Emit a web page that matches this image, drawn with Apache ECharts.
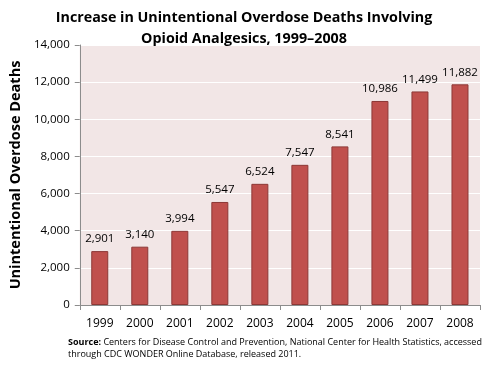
<!DOCTYPE html>
<html><head><meta charset="utf-8">
<script src="https://cdn.jsdelivr.net/npm/echarts@6/dist/echarts.min.js"></script>
<style>html,body{margin:0;padding:0;background:#fff}#c{width:489px;height:366px}</style>
</head><body><div id="c"></div>
<script>
const categories = ['1999','2000','2001','2002','2003','2004','2005','2006','2007','2008'];
const deaths = [2901, 3140, 3994, 5547, 6524, 7547, 8541, 10986, 11499, 11882];
const yTicks = [0, 2000, 4000, 6000, 8000, 10000, 12000, 14000];
const titleLines = ['Increase in Unintentional Overdose Deaths Involving', 'Opioid Analgesics, 1999\u20132008'];
const yAxisTitle = 'Unintentional Overdose Deaths';

const chart = echarts.init(document.getElementById('c'));
const fmt = v => v.toLocaleString('en-US');
chart.setOption({
  animation: false,
  textStyle: { fontFamily: 'Open Sans' },
  title: {
    text: titleLines.join('\n'),
    left: 239, top: 2, textAlign: 'center',
    textStyle: { fontSize: 14.3, fontWeight: 'bold', color: '#000', lineHeight: 21, fontFamily: 'Open Sans' }
  },
  grid: { left: 78, right: 9, top: 45, bottom: 61, show: true, backgroundColor: '#f2e6e6', borderWidth: 0 },
  xAxis: {
    type: 'category', data: categories,
    axisLine: { lineStyle: { color: '#8c8c8c' } },
    axisTick: { show: true, length: 5, lineStyle: { color: '#8c8c8c' } },
    axisLabel: { color: '#000', fontSize: 12, margin: 13 }
  },
  yAxis: {
    type: 'value', min: yTicks[0], max: yTicks[yTicks.length - 1], interval: 2000,
    name: yAxisTitle, nameLocation: 'middle', nameGap: 56,
    nameTextStyle: { fontSize: 14.5, fontWeight: 'bold', color: '#000' },
    axisLine: { show: true, lineStyle: { color: '#8c8c8c' } },
    axisTick: { show: true, length: 5, lineStyle: { color: '#8c8c8c' } },
    axisLabel: { color: '#000', fontSize: 11.5, formatter: fmt, margin: 10 },
    splitLine: { lineStyle: { color: '#ffffff', width: 1 } }
  },
  series: [{
    type: 'bar', data: deaths, barWidth: 17,
    itemStyle: { color: '#c0504d', borderColor: '#8c3836', borderWidth: 1 },
    label: { show: true, position: 'top', distance: 6, color: '#000', fontSize: 11.5, formatter: p => fmt(p.value) }
  }],
  graphic: [{
    type: 'text', left: 68, top: 336,
    style: {
      rich: { b: { fontWeight: 'bold', fontSize: 9, fontFamily: 'Open Sans' }, n: { fontSize: 9, fontFamily: 'Open Sans' } },
      text: '{b|Source:}{n| Centers for Disease Control and Prevention, National Center for Health Statistics, accessed}\n{n|through CDC WONDER Online Database, released 2011.}',
      lineHeight: 12, fill: '#000'
    }
  }]
});
</script></body></html>
